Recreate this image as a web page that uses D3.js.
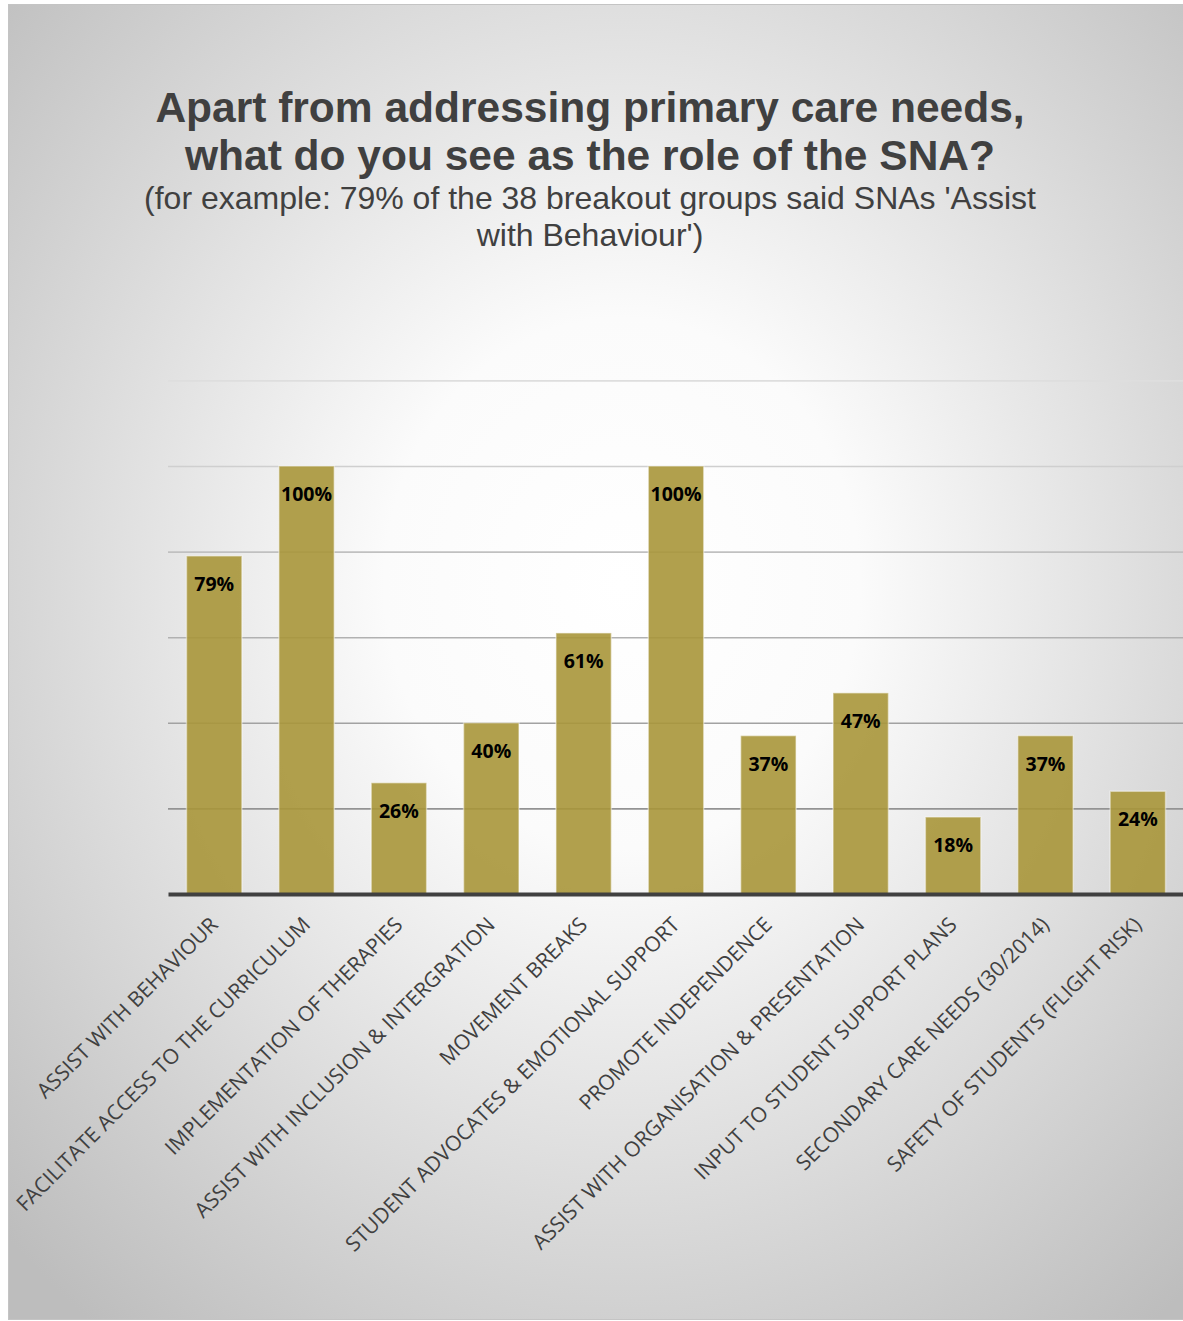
<!DOCTYPE html>
<html>
<head>
<meta charset="utf-8">
<script src="https://cdn.jsdelivr.net/npm/d3@7"></script>
<style>
  body { margin: 0; background: #fff; }
</style>
</head>
<body>
<svg class="chart-bar"></svg>
<script>
const categories = [
  "ASSIST WITH BEHAVIOUR",
  "FACILITATE ACCESS TO THE CURRICULUM",
  "IMPLEMENTATION OF THERAPIES",
  "ASSIST WITH INCLUSION & INTERGRATION",
  "MOVEMENT BREAKS",
  "STUDENT ADVOCATES & EMOTIONAL SUPPORT",
  "PROMOTE INDEPENDENCE",
  "ASSIST WITH ORGANISATION & PRESENTATION",
  "INPUT TO STUDENT SUPPORT PLANS",
  "SECONDARY CARE NEEDS (30/2014)",
  "SAFETY OF STUDENTS (FLIGHT RISK)"
];
const values = [79, 100, 26, 40, 61, 100, 37, 47, 18, 37, 24];
const gridTicks = [0, 20, 40, 60, 80, 100, 120];
const titleLines = ["Apart from addressing primary care needs,", "what do you see as the role of the SNA?"];
const subtitleLines = ["(for example: 79% of the 38 breakout groups said SNAs 'Assist", "with Behaviour')"];

let W = 1183, H = 1321;
let svg = d3.select(".chart-bar").attr("width", W).attr("height", H);
let defs = svg.append("defs");

// background: radial gradient, white in the middle, grey at the edges
let bg = defs.append("radialGradient").attr("id", "bg")
    .attr("cx", 0.52).attr("cy", 0.44).attr("r", 0.72);
bg.append("stop").attr("offset", 0).attr("stop-color", "#ffffff");
bg.append("stop").attr("offset", 0.28).attr("stop-color", "#fbfbfb");
bg.append("stop").attr("offset", 1).attr("stop-color", "#bdbdbd");

svg.append("rect")
    .attr("x", 8.5).attr("y", 4.5).attr("width", 1180).attr("height", 1315)
    .attr("fill", "url(#bg)").attr("stroke", "#c4c4c4").attr("stroke-width", 1);

// title
let title = svg.append("text").attr("text-anchor", "middle")
    .style("font-family", "'Liberation Sans', Arial, sans-serif")
    .attr("fill", "#404040");
title.selectAll("tspan").data(titleLines).enter().append("tspan")
    .attr("x", 590).attr("y", (d, i) => 122 + i * 48)
    .style("font-size", "42.5px").style("font-weight", "bold")
    .text(d => d);

let sub = svg.append("text").attr("text-anchor", "middle")
    .style("font-family", "'Liberation Sans', Arial, sans-serif")
    .attr("fill", "#404040");
sub.selectAll("tspan").data(subtitleLines).enter().append("tspan")
    .attr("x", 590).attr("y", (d, i) => 209 + i * 37)
    .style("font-size", "32px")
    .text(d => d);

// scales
let x = d3.scaleBand()
    .domain(categories)
    .range([168, 1184])
    .paddingInner(0.4)
    .paddingOuter(0.2);

let y = d3.scaleLinear()
    .domain([0, 120])
    .range([894, 380.4]);

// gridlines, darker towards the bottom
let gridColor = d3.scaleLinear().domain([20, 120]).range(["#939393", "#dedede"]);
let grid = svg.append("g")
    .attr("transform", "translate(168,0)")
    .call(d3.axisLeft(y).tickValues(gridTicks.slice(1)).tickSize(-1020).tickFormat(""));
grid.select(".domain").remove();
grid.selectAll(".tick line")
    .attr("stroke", d => gridColor(d))
    .attr("stroke-width", 1.6);

// bars
svg.selectAll("rect.bar")
    .data(values)
    .enter()
    .append("rect")
        .attr("class", "bar")
        .attr("x", (d, i) => x(categories[i]))
        .attr("width", x.bandwidth())
        .attr("y", d => y(d))
        .attr("height", d => y(0) - y(d))
        .attr("fill", "#a8963a")
        .attr("fill-opacity", 0.9)
        .attr("stroke", "#ffffff")
        .attr("stroke-opacity", 0.45)
        .attr("stroke-width", 1.5);

// value labels
svg.selectAll("text.val")
    .data(values)
    .enter()
    .append("text")
        .attr("class", "val")
        .attr("x", (d, i) => x(categories[i]) + x.bandwidth() / 2)
        .attr("y", d => y(d) + 35)
        .attr("text-anchor", "middle")
        .style("font-family", "'Open Sans', sans-serif")
        .style("font-weight", "bold")
        .style("font-size", "19.5px")
        .attr("fill", "#000")
        .text(d => d + "%");

// x axis
let xAxis = svg.append("g")
    .attr("transform", "translate(0,894)")
    .call(d3.axisBottom(x).tickSize(0).tickSizeOuter(0));
xAxis.select(".domain").attr("stroke", "#404040").attr("stroke-width", 4);
xAxis.selectAll(".tick text")
    .attr("y", null).attr("dy", null)
    .attr("text-anchor", "end")
    .attr("transform", "translate(5,32) rotate(-45)")
    .style("font-family", "'Open Sans', sans-serif")
    .style("font-size", "21px")
    .attr("fill", "#404040");
</script>
</body>
</html>
